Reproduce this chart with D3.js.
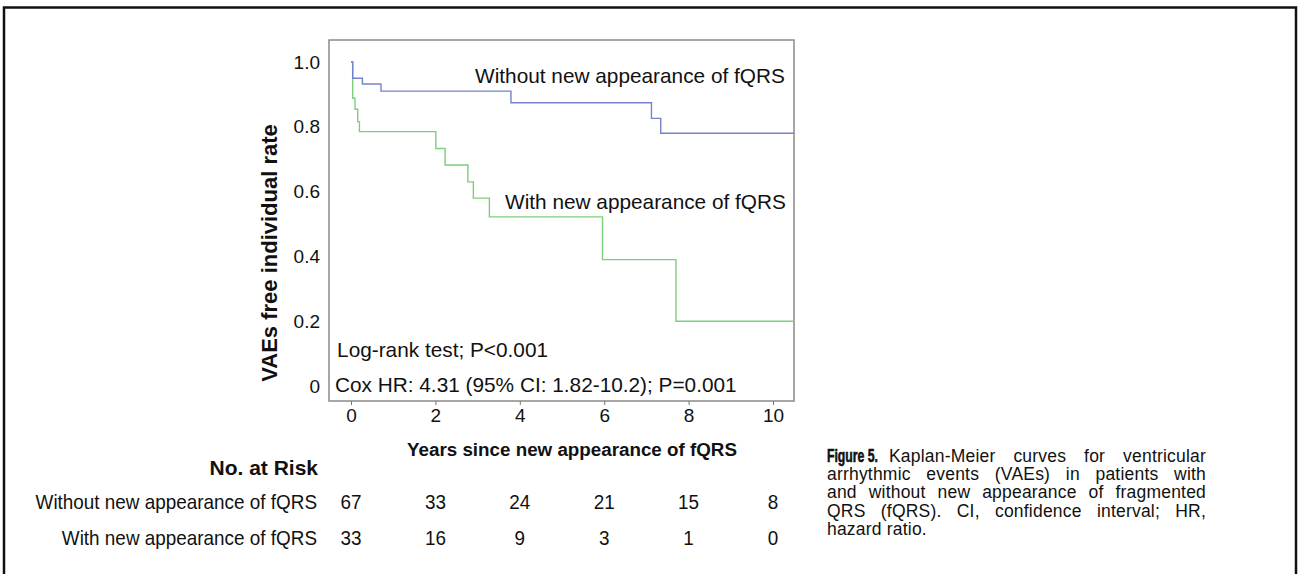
<!DOCTYPE html>
<html>
<head>
<meta charset="utf-8">
<script src="https://cdn.jsdelivr.net/npm/d3@7"></script>
<style>
  html, body { margin: 0; padding: 0; background: #fff; }
  svg { display: block; }
  text { font-family: "Liberation Sans", Arial, sans-serif; fill: #111; }
</style>
</head>
<body>
<script>
// Kaplan-Meier steps (time in years, survival fraction)
const withoutTimes = [0, 0.04, 0.27, 0.71, 3.79, 7.12, 7.34, 10.5];
const withoutSurv = [1, 0.95, 0.932, 0.91, 0.874, 0.826, 0.78, 0.78];

const withTimes = [0, 0.04, 0.095, 0.16, 0.2, 2.01, 2.23, 2.77, 2.9, 3.28, 5.96, 7.7, 10.5];
const withSurv = [1, 0.888, 0.854, 0.816, 0.785, 0.733, 0.682, 0.63, 0.58, 0.522, 0.39, 0.2, 0.2];

// Axis ticks
const xTicks = [0, 2, 4, 6, 8, 10];
const yTicks = [0, 0.2, 0.4, 0.6, 0.8, 1.0];

// Number at risk table
const riskTimes = [0, 2, 4, 6, 8, 10];
const riskGroups = ['Without new appearance of fQRS', 'With new appearance of fQRS'];
const riskWithout = [67, 33, 24, 21, 15, 8];
const riskWith = [33, 16, 9, 3, 1, 0];

// Caption lines
const captionLead = 'Figure 5.';
const captionLines = [
  'Kaplan-Meier curves for ventricular',
  'arrhythmic events (VAEs) in patients with',
  'and without new appearance of fragmented',
  'QRS (fQRS). CI, confidence interval; HR,',
  'hazard ratio.'
];

const fullWidth = 1299;
const fullHeight = 574;

// plot box
const box = { left: 329, right: 794, top: 40, bottom: 401 };

const x = d3.scaleLinear().domain([0, 10]).range([351, 773]);
const y = d3.scaleLinear().domain([0, 1]).range([386, 62]);

const svg = d3.select('body')
  .append('svg')
  .attr('width', fullWidth)
  .attr('height', fullHeight);

// narrow text: regular face squeezed horizontally
function narrowText(parent, px, py, str, size, anchor, squeeze, bold) {
  const t = parent.append('g')
    .attr('transform', `translate(${px}, ${py}) scale(${squeeze}, 1)`)
    .append('text')
    .attr('x', 0)
    .attr('y', 0)
    .attr('text-anchor', anchor)
    .style('font-size', `${size}px`)
    .text(str);
  if (bold) t.style('font-weight', 'bold');
  return t;
}

// page frame
svg.append('path')
  .attr('d', `M4,${fullHeight} V7.5 H1296 V${fullHeight}`)
  .attr('fill', 'none')
  .attr('stroke', '#111')
  .attr('stroke-width', 2.5);

// plot box
svg.append('rect')
  .attr('x', box.left)
  .attr('y', box.top)
  .attr('width', box.right - box.left)
  .attr('height', box.bottom - box.top)
  .attr('fill', 'none')
  .attr('stroke', '#8a8a8a')
  .attr('stroke-width', 1.5);

// curves
const line = d3.line()
  .x(d => x(d[0]))
  .y(d => y(d[1]))
  .curve(d3.curveStepAfter);

svg.append('path')
  .datum(withTimes.map((t, i) => [t, withSurv[i]]))
  .attr('d', line)
  .attr('fill', 'none')
  .attr('stroke', '#7ccf7c')
  .attr('stroke-width', 1.4);

svg.append('path')
  .datum(withoutTimes.map((t, i) => [t, withoutSurv[i]]))
  .attr('d', line)
  .attr('fill', 'none')
  .attr('stroke', '#7383cc')
  .attr('stroke-width', 1.4);

// X axis
const xAxis = d3.axisBottom(x)
  .tickValues(xTicks)
  .tickFormat(d3.format('d'))
  .tickSize(4)
  .tickPadding(4);

const gx = svg.append('g')
  .attr('transform', `translate(0, ${box.bottom})`)
  .call(xAxis);
gx.select('.domain').remove();
gx.selectAll('line').attr('stroke', '#777');
gx.selectAll('text')
  .style('font-family', '"Liberation Sans", Arial, sans-serif')
  .style('font-size', '19px')
  .attr('fill', '#111');

// Y axis
const yAxis = d3.axisLeft(y)
  .tickValues(yTicks)
  .tickFormat(d => (d === 0 ? '0' : d3.format('.1f')(d)))
  .tickSize(0)
  .tickPadding(9);

const gy = svg.append('g')
  .attr('transform', `translate(${box.left}, 0)`)
  .call(yAxis);
gy.select('.domain').remove();
gy.selectAll('text')
  .style('font-family', '"Liberation Sans", Arial, sans-serif')
  .style('font-size', '19px')
  .attr('fill', '#111');

// axis titles
svg.append('text')
  .attr('transform', `translate(277, 253) rotate(-90)`)
  .attr('text-anchor', 'middle')
  .style('font-size', '22px')
  .style('font-weight', 'bold')
  .text('VAEs free individual rate');

svg.append('text')
  .attr('x', 572)
  .attr('y', 456)
  .attr('text-anchor', 'middle')
  .style('font-size', '18.8px')
  .style('font-weight', 'bold')
  .text('Years since new appearance of fQRS');

// in-plot labels
svg.append('text')
  .attr('x', x(2.94))
  .attr('y', y(0.936))
  .style('font-size', '20.8px')
  .text('Without new appearance of fQRS');

svg.append('text')
  .attr('x', x(3.65))
  .attr('y', y(0.547))
  .style('font-size', '20.8px')
  .text('With new appearance of fQRS');

svg.append('text')
  .attr('x', x(-0.33))
  .attr('y', y(0.088))
  .style('font-size', '20.8px')
  .text('Log-rank test; P<0.001');

svg.append('text')
  .attr('x', x(-0.38))
  .attr('y', y(-0.02))
  .style('font-size', '20.8px')
  .text('Cox HR: 4.31 (95% CI: 1.82-10.2); P=0.001');

// number at risk
narrowText(svg, 318, 475, 'No. at Risk', 21, 'end', 1.0, true);

const rowY = [509, 545];
[riskWithout, riskWith].forEach((vals, r) => {
  narrowText(svg, 317, rowY[r], riskGroups[r], 21, 'end', 0.9, false);
  vals.forEach((v, i) => {
    narrowText(svg, x(riskTimes[i]), rowY[r], v, 21, 'middle', 0.9, false);
  });
});

// caption
const capLeft = 827;
const capRight = 1206;
const capTop = 462;
const capLine = 18.2;

narrowText(svg, capLeft, capTop, captionLead, 18, 'start', 0.68, true)
  .style('stroke', '#111')
  .style('stroke-width', 0.6);

captionLines.forEach((s, i) => {
  const startX = i === 0 ? 889 : capLeft;
  const t = svg.append('text')
    .attr('x', startX)
    .attr('y', capTop + i * capLine)
    .style('font-size', '17.5px')
    .style('letter-spacing', '0.2px')
    .attr('fill', '#222')
    .text(s);
  if (i < captionLines.length - 1) {
    const natural = t.node().getComputedTextLength();
    const spaces = (s.match(/ /g) || []).length;
    const extra = Math.max(0, (capRight - startX - natural) / spaces);
    t.attr('word-spacing', extra);
  }
});
</script>
</body>
</html>
